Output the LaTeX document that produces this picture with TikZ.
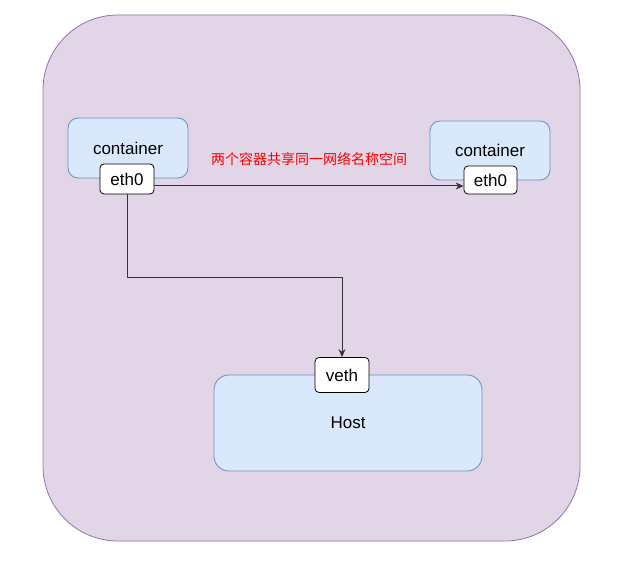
\documentclass[tikz,border=0pt]{standalone}
\usepackage{fontspec}
\setmainfont{Liberation Sans}
\newfontfamily\cjk{Noto Sans CJK SC}
\usetikzlibrary{arrows.meta}

\definecolor{nsfill}{HTML}{E1D5E7}
\definecolor{nsline}{HTML}{9673A6}
\definecolor{boxfill}{HTML}{DAE8FC}
\definecolor{boxline}{HTML}{6C8EBF}

\begin{document}
\begin{tikzpicture}[x=1pt, y=-1pt,
    every node/.style={inner sep=0pt, font=\fontsize{17}{20}\selectfont},
    netns/.style={draw=nsline, fill=nsfill, rounded corners=75pt, line width=0.8pt},
    bluebox/.style={draw=boxline, fill=boxfill, rounded corners=10pt, line width=0.8pt},
    iface/.style={draw=black, fill=white, rounded corners=4pt, line width=0.8pt},
    link/.style={draw=black!80, line width=1pt, -{Stealth[length=8pt,width=7pt]}}]
    \useasboundingbox (0,0) rectangle (630,564);

    % Shared namespace
    \node[netns, minimum width=537pt, minimum height=526pt] (ns) at (311.5,278) {};

    % Containers
    \node[bluebox, minimum width=120pt, minimum height=60pt] (cL) at (128,148) {container};
    \node[bluebox, minimum width=120pt, minimum height=59pt] (cR) at (490,150.5) {container};

    % Host
    \node[bluebox, rounded corners=15pt, minimum width=268pt, minimum height=96pt] (host) at (348,423) {Host};

    % Interfaces
    \node[iface, minimum width=54pt, minimum height=30pt] (ethL) at (127,179) {eth0};
    \node[iface, minimum width=53pt, minimum height=28pt] (ethR) at (490.5,180) {eth0};
    \node[iface, minimum width=54pt, minimum height=35pt] (veth) at (342,375) {veth};

    % Links
    \draw[link] ([yshift=-7pt]ethL.east) -- ([yshift=-6pt]ethR.west)
        node[midway, above=20pt, text=red, font=\cjk\fontsize{14}{16}\selectfont] (note) {两个容器共享同一网络名称空间};
    \draw[link] (ethL.south) -- ++(0,83) -| (veth.north);
\end{tikzpicture}
\end{document}
